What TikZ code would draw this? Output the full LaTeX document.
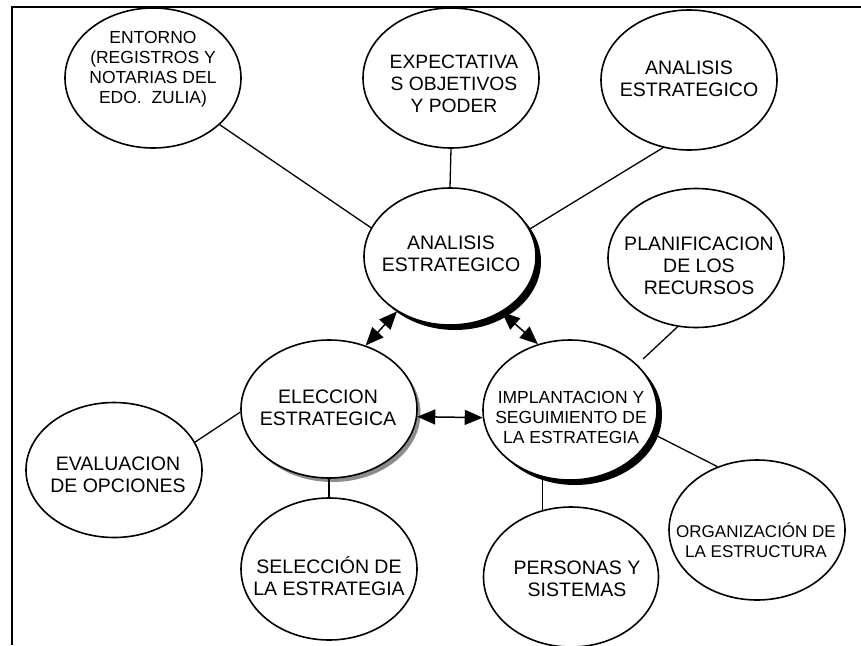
\documentclass[tikz,border=0pt]{standalone}
\usepackage{fontspec}
\setmainfont{Liberation Sans}
\usetikzlibrary{shapes.geometric,arrows.meta,shadows}
\tikzset{
  ell/.style={ellipse, draw=black, line width=1.6pt, fill=white, inner sep=0pt},
  txt/.style={align=center, inner sep=0pt, font=\fontsize{19.5}{22}\selectfont},
  smalltxt/.style={align=center, inner sep=0pt, font=\fontsize{17.5}{20}\selectfont},
  conn/.style={line width=1.3pt},
  dbl/.style={line width=1.5pt, arrows={Triangle[length=18pt,width=15pt]-Triangle[length=18pt,width=15pt]}},
  blackshadow/.style={drop shadow={shadow xshift=5pt, shadow yshift=-5pt, fill=black, opacity=1}},
  grayshadow/.style={drop shadow={shadow xshift=3.5pt, shadow yshift=-4pt, fill=black!45, opacity=1}}
}
\begin{document}
\begin{tikzpicture}[x=1pt,y=1pt]
\useasboundingbox (0,0) rectangle (861,-645);
% frame
\coordinate (fa) at (12,-7);
\coordinate (fb) at (861,-7);
\coordinate (fc) at (12,-645);
\draw[line width=1.8pt] (fb) -- (fa) -- (fc);

% ellipses
\node[ell, minimum width=176pt, minimum height=140pt] (entorno) at (153,-78) {};
\node[ell, minimum width=176pt, minimum height=140pt] (expect) at (451,-78) {};
\node[ell, minimum width=176pt, minimum height=140pt] (atr) at (689,-80) {};
\node[ell, blackshadow, minimum width=172pt, minimum height=137pt] (central) at (450,-256.5) {};
\node[ell, minimum width=176pt, minimum height=139pt] (planif) at (696,-258) {};
\node[ell, grayshadow, minimum width=176pt, minimum height=138pt] (elec) at (329,-409) {};
\node[ell, minimum width=176pt, minimum height=135pt] (eval) at (114,-470) {};
\node[ell, minimum width=176pt, minimum height=142pt] (sel) at (329,-569) {};
\node[ell, blackshadow, minimum width=174pt, minimum height=140pt] (impl) at (570,-410) {};
\node[ell, minimum width=175pt, minimum height=140pt] (pers) at (571,-577) {};
\node[ell, minimum width=176pt, minimum height=140pt] (org) at (757,-530) {};

% texts
\node[smalltxt] (tentorno) at (153,-69) {ENTORNO\\(REGISTROS Y\\NOTARIAS DEL\\EDO.\ \ ZULIA)};
\node[txt, font=\fontsize{19.3}{22}\selectfont] (texpect) at (454,-84) {EXPECTATIVA\\S OBJETIVOS\\Y PODER};
\node[txt] (tatr) at (689,-79) {ANALISIS\\ESTRATEGICO};
\node[txt] (tcentral) at (451,-254) {ANALISIS\\ESTRATEGICO};
\node[txt] (tplanif) at (699,-266) {PLANIFICACION\\DE LOS\\RECURSOS};
\node[txt] (telec) at (328,-408) {ELECCION\\ESTRATEGICA};
\node[txt] (teval) at (118,-475) {EVALUACION\\DE OPCIONES};
\node[txt] (tsel) at (329,-576) {SELECCIÓN DE\\LA ESTRATEGIA};
\node[smalltxt] (timpl) at (571,-417) {IMPLANTACION Y\\SEGUIMIENTO DE\\LA ESTRATEGIA};
\node[txt] (tpers) at (577,-579) {PERSONAS Y\\SISTEMAS};
\node[smalltxt, font=\fontsize{17}{20}\selectfont] (torg) at (756,-540) {ORGANIZACIÓN DE\\LA ESTRUCTURA};

% connectors
\draw[conn] (entorno.325.6) -- (central.160.5);
\draw[conn] (expect.south) -- (central.north);
\draw[conn] (atr.249.4) -- (central.19);
\coordinate (pend) at (643,-359);
\draw[conn] (planif.255) -- (pend);
\draw[conn] (elec.182.6) -- (eval.19.3);
\draw[conn] (elec.south) -- (sel.north);
\draw[conn] (impl.-16.4) -- (org.122.5);
\draw[conn] (impl.248.7) -- (impl.248.7 |- pers.114);

% double arrows
\draw[dbl] (central.226) -- (elec.60.6);
\draw[dbl] (central.313) -- (impl.116);
\draw[dbl] (elec.-5) -- (impl.185);
\end{tikzpicture}
\end{document}
